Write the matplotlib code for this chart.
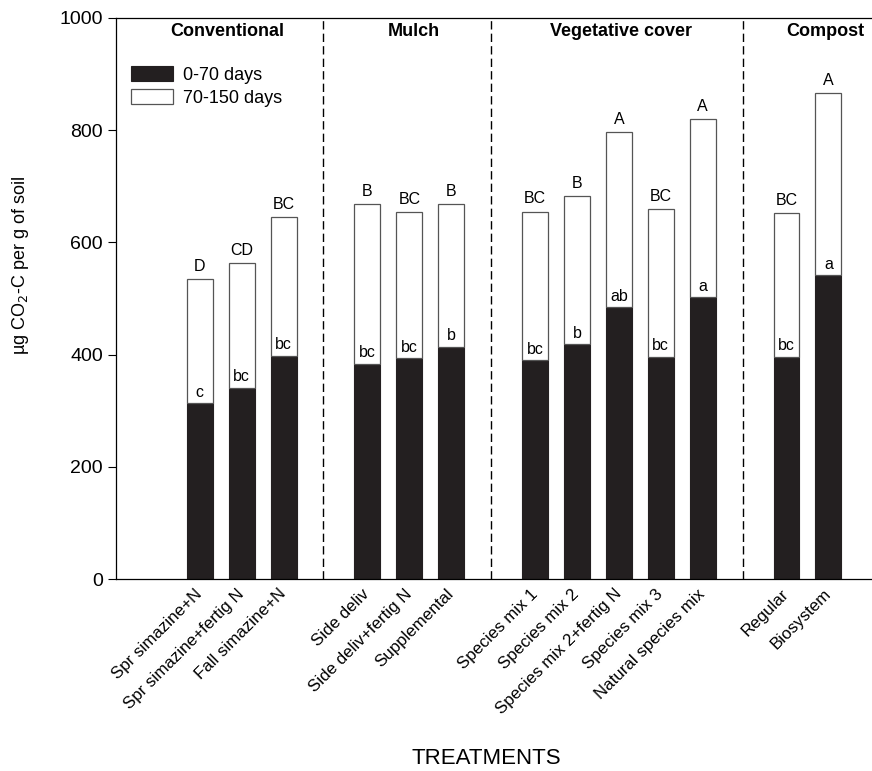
import matplotlib
matplotlib.use("Agg")
from matplotlib import pyplot as plt
import numpy as np

plt.rcParams['font.family'] = ['Liberation Sans', 'DejaVu Sans']

# Treatments and values (ug CO2-C per g soil)
treatments = ['Spr simazine+N', 'Spr simazine+fertig N', 'Fall simazine+N',
              'Side deliv', 'Side deliv+fertig N', 'Supplemental',
              'Species mix 1', 'Species mix 2', 'Species mix 2+fertig N',
              'Species mix 3', 'Natural species mix',
              'Regular', 'Biosystem']
positions = [2, 3, 4, 6, 7, 8, 10, 11, 12, 13, 14, 16, 17]
early = [313, 341, 398, 384, 394, 414, 390, 418, 485, 396, 502, 396, 541]   # 0-70 days
late = [221, 223, 247, 284, 260, 255, 265, 264, 312, 264, 318, 257, 326]    # 70-150 days
upper_letters = ['D', 'CD', 'BC', 'B', 'BC', 'B', 'BC', 'B', 'A', 'BC', 'A', 'BC', 'A']
lower_letters = ['c', 'bc', 'bc', 'bc', 'bc', 'b', 'bc', 'b', 'ab', 'bc', 'a', 'bc', 'a']

groups = ['Conventional', 'Mulch', 'Vegetative cover', 'Compost']
group_x = [2.66, 7.11, 12.05, 16.92]
dividers = [4.95, 8.95, 14.95]

fig = plt.figure(figsize=(8.72, 7.71), dpi=100)
ax = fig.add_axes([0.133, 0.249, 0.867, 0.7277])

early = np.array(early)
late = np.array(late)
total = early + late

ax.bar(positions, early, width=0.62, color='#231f20', edgecolor='#231f20',
       linewidth=0.8, label='0-70 days')
ax.bar(positions, late, bottom=early, width=0.62, color='white',
       edgecolor='#555555', linewidth=0.9, label='70-150 days')

for x, e, t, up, lo in zip(positions, early, total, upper_letters, lower_letters):
    ax.text(x, t + 9, up, ha='center', va='bottom', fontsize=11.5)
    ax.text(x, e + 6, lo, ha='center', va='bottom', fontsize=11.5)

for d in dividers:
    ax.plot([d, d], [0, 1000], color='black', linestyle=(0, (6, 3)), linewidth=1.0)

for g, gx in zip(groups, group_x):
    ax.text(gx, 975, g, ha='center', va='center', fontsize=13, fontweight='bold')

ax.set_xlim(0, 18.04)
ax.set_ylim(0, 1000)
ax.set_yticks([0, 200, 400, 600, 800, 1000])
ax.tick_params(axis='y', direction='out', length=6, labelsize=14, width=0.8)
ax.set_xticks(positions)
ax.set_xticklabels(treatments, rotation=45, ha='right', va='center',
                   rotation_mode='anchor', fontsize=12.2)
ax.tick_params(axis='x', length=0, pad=9)
ax.spines['right'].set_visible(False)
for s in ['left', 'bottom', 'top']:
    ax.spines[s].set_linewidth(0.9)

ax.set_ylabel('µg CO$_2$-C per g of soil', fontsize=13)
ax.yaxis.set_label_coords(-0.113, 0.558)
ax.set_xlabel('TREATMENTS', fontsize=16)
ax.xaxis.set_label_coords(0.49, -0.302)

ax.legend(loc='upper left', bbox_to_anchor=(0.02, 0.914), frameon=False,
          borderpad=0, borderaxespad=0, handlelength=2.3, handleheight=0.9,
          handletextpad=0.6, labelspacing=0.3, fontsize=13)

fig.savefig('out.png', dpi=100)
